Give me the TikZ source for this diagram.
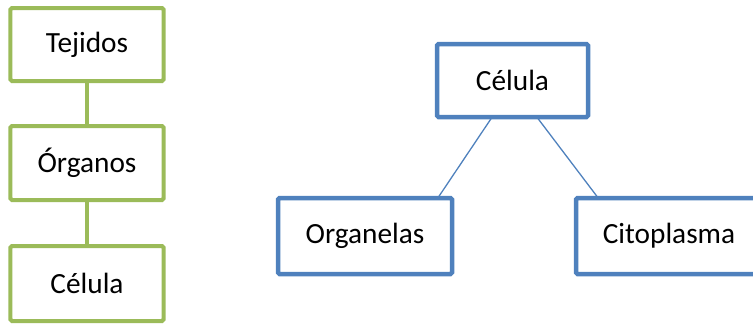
\documentclass[tikz,border=0pt]{standalone}
\usepackage{fontspec}
\setmainfont{Carlito}
\usetikzlibrary{calc}
\definecolor{boxgreen}{HTML}{9BBB59}
\definecolor{boxblue}{HTML}{4F81BD}
\begin{document}
\begin{tikzpicture}[x=1bp,y=-1bp,
  every node/.style={font=\fontsize{29.3bp}{34bp}\selectfont, text=black},
  greenbox/.style={draw=boxgreen, line width=4bp, rounded corners=1.5bp, fill=white, inner sep=0pt},
  bluebox/.style={draw=boxblue, line width=4.5bp, rounded corners=1.5bp, fill=white, inner sep=0pt},
  greenlink/.style={draw=boxgreen, line width=3.5bp},
  bluelink/.style={draw=boxblue, line width=1.3bp}]
  \useasboundingbox (0,0) rectangle (753,325);
  \begin{scope}
  \clip (0,0) rectangle (753,325);
  % level chain on the left
  \node[greenbox, minimum width=153bp, minimum height=73bp] (tej) at (87,44.5) {Tejidos};
  \node[greenbox, minimum width=153bp, minimum height=74bp] (org) at (87,163) {Órganos};
  \node[greenbox, minimum width=153bp, minimum height=75bp] (cel) at (87,283.5) {Célula};
  \draw[greenlink] (tej.south) -- (org.north);
  \draw[greenlink] (org.south) -- (cel.north);
  % cell tree on the right
  \node[bluebox, minimum width=151bp, minimum height=73bp] (top) at (512.5,80.5) {Célula};
  \node[bluebox, minimum width=174bp, minimum height=76bp] (orgn) at (365,236) {Organelas};
  \node[bluebox, minimum width=186bp, minimum height=76bp] (cito) at (669,236) {Citoplasma};
  \draw[bluelink] ($(top.south)+(-20.5,-2)$) -- ($(orgn.north)+(73,2)$);
  \draw[bluelink] ($(top.south)+(24.5,-2)$) -- ($(cito.north)+(-71,2)$);
  \end{scope}
\end{tikzpicture}
\end{document}
